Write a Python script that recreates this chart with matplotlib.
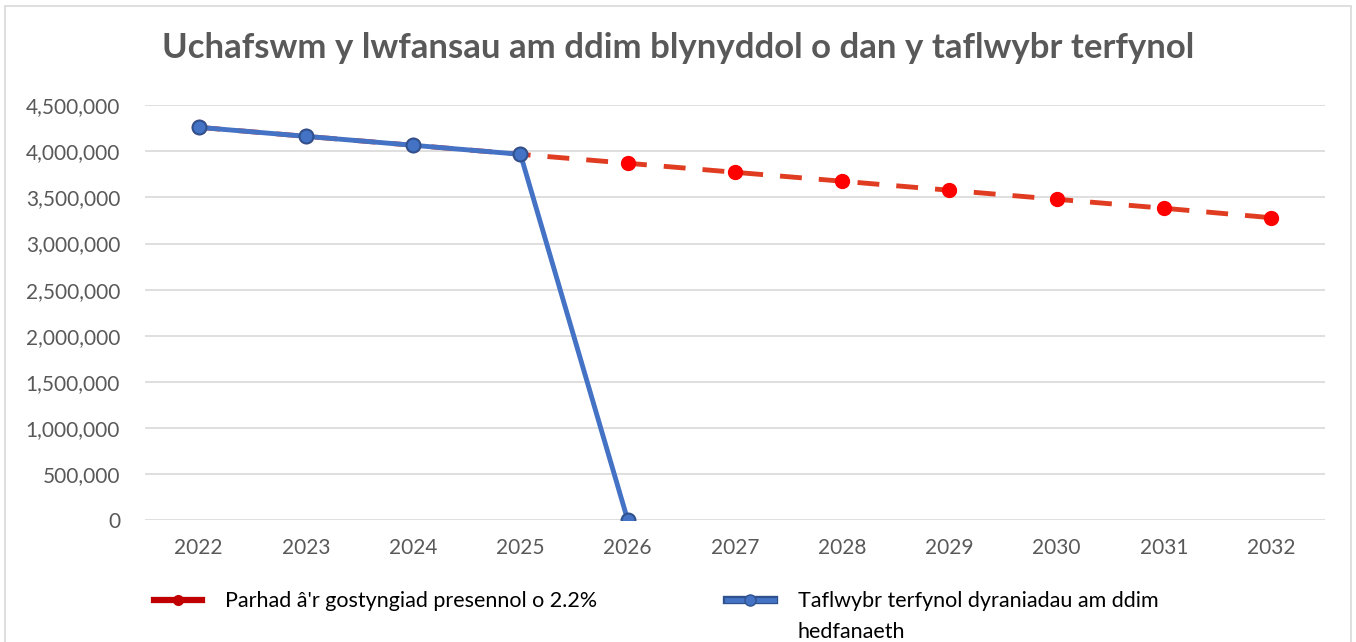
import matplotlib.pyplot as plt
from matplotlib.lines import Line2D
from matplotlib.legend_handler import HandlerTuple
from matplotlib.patches import Rectangle
from matplotlib.ticker import FuncFormatter, MultipleLocator

years = [2022, 2023, 2024, 2025, 2026, 2027, 2028, 2029, 2030, 2031, 2032]
continued_cut = [4261000, 4163000, 4066000, 3968000, 3871000, 3773000,
                 3676000, 3578000, 3480000, 3383000, 3280000]
trajectory_years = [2022, 2023, 2024, 2025, 2026]
trajectory = [4261000, 4163000, 4066000, 3968000, 0]

label_cut = "Parhad â'r gostyngiad presennol o 2.2%"
label_traj = "Taflwybr terfynol dyraniadau am ddim"
label_traj_wrap = "hedfanaeth"
title = "Uchafswm y lwfansau am ddim blynyddol o dan y taflwybr terfynol"

plt.rcParams["font.family"] = ["Lato", "DejaVu Sans"]

fig = plt.figure(figsize=(13.56, 6.42), dpi=100)
ax = fig.add_axes([0.107, 0.19, 0.870, 0.646])

ax.plot(years, continued_cut, color="#e03c22", linestyle=(0, (4.5, 3.5)), linewidth=3.5,
        marker="o", markersize=10, markerfacecolor="#ff0000", markeredgecolor="#ff0000",
        zorder=3)
ax.plot(trajectory_years, trajectory, color="#4472c4", linewidth=3.5,
        marker="o", markersize=10, markerfacecolor="#4472c4", markeredgecolor="#2f528f",
        markeredgewidth=1.5, zorder=4)

ax.set_xlim(2021.5, 2032.5)
ax.set_ylim(0, 4500000)
ax.set_xticks(years)
ax.yaxis.set_major_locator(MultipleLocator(500000))
ax.yaxis.set_major_formatter(FuncFormatter(lambda v, _: f"{int(v):,}"))
ax.grid(axis="y", color="#d9d9d9", linewidth=1.2)
ax.set_axisbelow(True)
for side in ["top", "right", "left", "bottom"]:
    ax.spines[side].set_visible(False)
ax.tick_params(length=0, labelsize=15, labelcolor="#595959")
ax.tick_params(axis="y", pad=18)
ax.tick_params(axis="x", pad=13)

fig.text(0.5, 0.925, title, ha="center", va="center", fontsize=25,
         fontweight="bold", color="#595959")

# legend swatches: thick line with a small dot, blue one has a dark outline
red_handle = (
    Line2D([], [], color="#c00000", linewidth=4.5),
    Line2D([], [], color="#c00000", linewidth=0, marker="o", markersize=8,
           markeredgewidth=0),
)
blue_handle = (
    Line2D([], [], color="#2f528f", linewidth=6),
    Line2D([], [], color="#4472c4", linewidth=3.5),
    Line2D([], [], color="#4472c4", linewidth=0, marker="o", markersize=8,
           markeredgecolor="#2f528f", markeredgewidth=1),
)
leg = ax.legend([red_handle, blue_handle], [label_cut, label_traj],
                handler_map={tuple: HandlerTuple(ndivide=1, pad=0)},
                loc="upper left", bbox_to_anchor=(-0.0085, -0.125), ncol=2, frameon=False,
                fontsize=15.5, handlelength=2.2, columnspacing=6.0, handletextpad=1.1)
for txt in leg.get_texts():
    txt.set_color("#000000")

# wrapped second line of the blue label, hung under the legend text
# (zorder above the legend so the legend is laid out before this is placed)
ax.annotate(label_traj_wrap, xy=(0, 1), xycoords=leg.get_texts()[1],
            xytext=(0, -22.5), textcoords="offset points", ha="left", va="top",
            fontsize=15.5, color="#000000", annotation_clip=False, zorder=10)

fig.patches.append(Rectangle((0.004, -0.01), 0.992, 1.0, transform=fig.transFigure,
                             fill=False, edgecolor="#d9d9d9", linewidth=1.2))

fig.savefig("out.png", dpi=100)
